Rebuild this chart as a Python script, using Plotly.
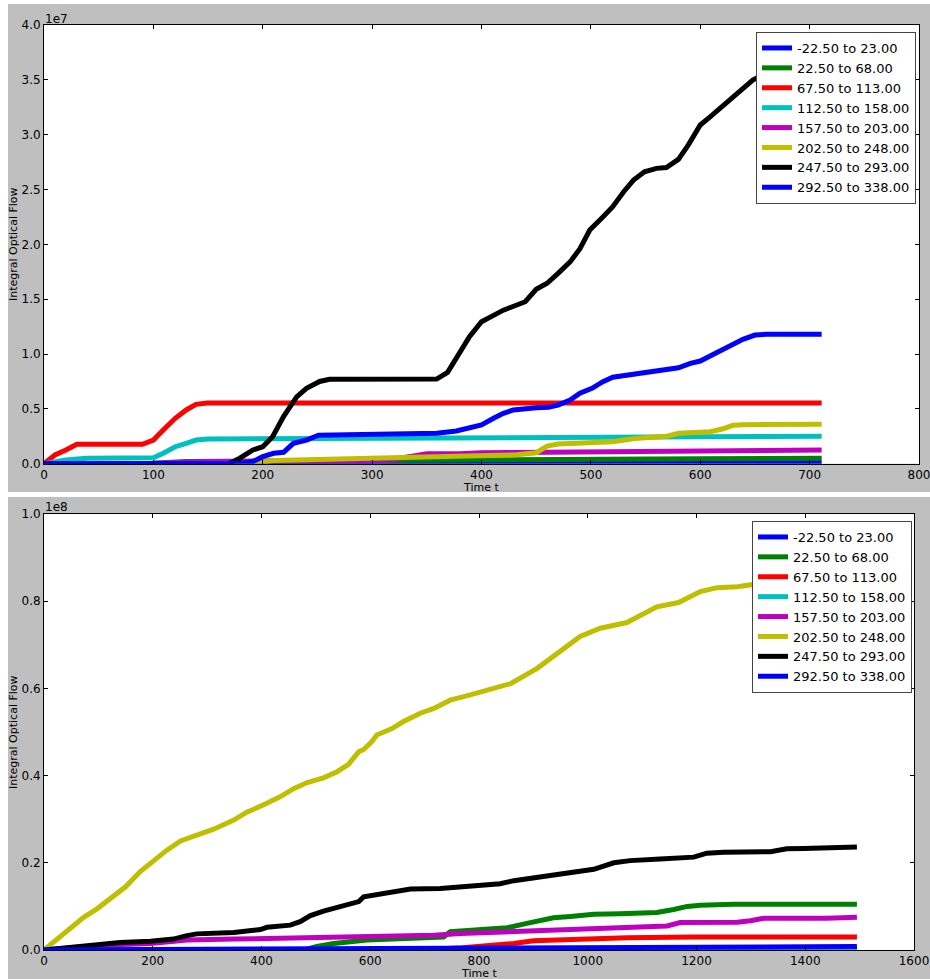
import plotly.graph_objects as go

# ---------------- data ----------------
labels = ["-22.50 to 23.00", "22.50 to 68.00", "67.50 to 113.00", "112.50 to 158.00",
          "157.50 to 203.00", "202.50 to 248.00", "247.50 to 293.00", "292.50 to 338.00"]
colors = ["#0000ff", "#008000", "#ff0000", "#00bfbf", "#bf00bf", "#bfbf00", "#000000", "#0000ff"]

# upper panel (values in units of 1e7)
top_t_0 = [0, 300, 500, 711]
top_v_0 = [0, 0.002, 0.005, 0.01]
top_t_1 = [0, 100, 130, 200, 300, 400, 500, 600, 711]
top_v_1 = [0, 0.005, 0.02, 0.025, 0.028, 0.034, 0.04, 0.045, 0.05]
top_t_2 = [0, 10, 20, 30, 90, 100, 109, 120, 130, 139, 149, 711]
top_v_2 = [0, 0.08, 0.125, 0.177, 0.177, 0.216, 0.307, 0.414, 0.49, 0.541, 0.553, 0.553]
top_t_3 = [0, 20, 39, 100, 109, 120, 130, 139, 150, 300, 450, 600, 711]
top_v_3 = [0, 0.034, 0.049, 0.055, 0.095, 0.155, 0.186, 0.216, 0.225, 0.228, 0.237, 0.245, 0.25]
top_t_4 = [0, 100, 150, 200, 300, 320, 340, 350, 380, 400, 460, 540, 600, 711]
top_v_4 = [0, 0.005, 0.02, 0.02, 0.03, 0.04, 0.07, 0.09, 0.091, 0.1, 0.105, 0.113, 0.12, 0.125]
top_t_5 = [0, 190, 210, 250, 300, 350, 380, 400, 430, 450, 460, 470, 490, 500, 520, 540,
           560, 570, 580, 600, 609, 620, 630, 639, 660, 711]
top_v_5 = [0, 0.002, 0.03, 0.04, 0.045, 0.055, 0.064, 0.07, 0.08, 0.1, 0.16, 0.18, 0.189, 0.19,
           0.2, 0.23, 0.246, 0.25, 0.277, 0.286, 0.292, 0.316, 0.35, 0.356, 0.36, 0.36]
top_t_6 = [0, 170, 179, 191, 200, 209, 219, 231, 240, 252, 261, 300, 359, 369, 379, 389, 400,
           411, 420, 430, 440, 450, 460, 470, 481, 490, 499, 511, 520, 530, 539, 549, 560, 569,
           580, 589, 600, 609, 620, 630, 639, 648, 660, 672, 684, 696, 711]
top_v_6 = [0, 0.005, 0.05, 0.125, 0.155, 0.246, 0.43, 0.61, 0.687, 0.75, 0.77, 0.77, 0.772,
           0.833, 1.0, 1.158, 1.295, 1.356, 1.40, 1.438, 1.477, 1.59, 1.645, 1.736, 1.84, 1.96,
           2.13, 2.25, 2.343, 2.48, 2.586, 2.662, 2.693, 2.70, 2.775, 2.905, 3.088, 3.163, 3.26,
           3.337, 3.43, 3.498, 3.56, 3.62, 3.68, 3.72, 3.76]
top_t_7 = [0, 180, 191, 200, 210, 219, 228, 240, 251, 300, 359, 377, 389, 400, 411, 420, 429,
           441, 450, 461, 470, 481, 490, 501, 511, 520, 531, 542, 549, 560, 571, 580, 591, 600,
           609, 618, 629, 639, 650, 661, 711]
top_v_7 = [0, 0.005, 0.02, 0.064, 0.095, 0.104, 0.186, 0.216, 0.26, 0.265, 0.277, 0.298, 0.328,
           0.353, 0.414, 0.459, 0.49, 0.505, 0.51, 0.514, 0.535, 0.58, 0.642, 0.687, 0.748, 0.788,
           0.802, 0.815, 0.824, 0.845, 0.854, 0.875, 0.915, 0.936, 0.982, 1.027, 1.082, 1.134,
           1.173, 1.18, 1.18]

# lower panel (values in units of 1e8)
bot_t_0 = [0, 500, 1000, 1495]
bot_v_0 = [0, 0.001, 0.002, 0.003]
bot_t_1 = [0, 480, 502, 533, 594, 686, 735, 747, 784, 852, 888, 937, 968, 1011, 1060, 1127,
           1158, 1183, 1207, 1244, 1268, 1495]
bot_v_1 = [0, 0.001, 0.008, 0.015, 0.023, 0.028, 0.03, 0.042, 0.046, 0.051, 0.061, 0.074,
           0.077, 0.082, 0.083, 0.086, 0.093, 0.1, 0.1025, 0.103, 0.105, 0.105]
bot_t_2 = [0, 700, 770, 827, 864, 900, 980, 1072, 1195, 1495]
bot_v_2 = [0, 0.001, 0.005, 0.01, 0.015, 0.021, 0.025, 0.028, 0.03, 0.03]
bot_t_3 = [0, 500, 1000, 1495]
bot_v_3 = [0, 0.0005, 0.001, 0.0015]
bot_t_4 = [0, 104, 196, 263, 349, 471, 625, 717, 766, 858, 950, 1042, 1146, 1170, 1275, 1299,
           1323, 1439, 1495]
bot_v_4 = [0, 0.011, 0.015, 0.023, 0.025, 0.028, 0.03, 0.034, 0.038, 0.042, 0.047, 0.051, 0.055,
           0.063, 0.0635, 0.067, 0.0727, 0.073, 0.075]
bot_t_5 = [0, 36, 73, 98, 122, 150, 177, 202, 226, 251, 275, 312, 349, 373, 404, 435, 459, 484,
           514, 539, 560, 579, 588, 603, 612, 640, 661, 692, 717, 747, 784, 802, 858, 907, 956,
           986, 1023, 1072, 1127, 1167, 1207, 1238, 1275, 1302, 1340, 1380, 1420, 1460, 1495]
bot_v_5 = [0, 0.038, 0.075, 0.095, 0.119, 0.145, 0.18, 0.206, 0.229, 0.25, 0.261, 0.277, 0.298,
           0.316, 0.333, 0.352, 0.37, 0.384, 0.395, 0.409, 0.426, 0.455, 0.46, 0.478, 0.493,
           0.508, 0.524, 0.543, 0.554, 0.573, 0.585, 0.592, 0.611, 0.646, 0.692, 0.719, 0.738,
           0.751, 0.787, 0.797, 0.822, 0.831, 0.833, 0.837, 0.845, 0.855, 0.862, 0.868, 0.872]
bot_t_6 = [0, 73, 104, 140, 196, 238, 263, 281, 349, 398, 410, 453, 471, 490, 514, 539, 563,
           579, 588, 619, 643, 674, 729, 784, 802, 839, 864, 900, 944, 980, 1011, 1048, 1078,
           1133, 1195, 1219, 1250, 1336, 1366, 1397, 1434, 1495]
bot_v_6 = [0, 0.008, 0.013, 0.017, 0.02, 0.025, 0.033, 0.037, 0.04, 0.047, 0.052, 0.057, 0.065,
           0.079, 0.089, 0.097, 0.107, 0.111, 0.122, 0.128, 0.135, 0.14, 0.141, 0.147, 0.148,
           0.152, 0.159, 0.166, 0.174, 0.181, 0.185, 0.2, 0.205, 0.209, 0.213, 0.222, 0.224,
           0.2255, 0.232, 0.233, 0.234, 0.236]
bot_t_7 = [0, 300, 600, 900, 1200, 1495]
bot_v_7 = [0, 0.002, 0.004, 0.006, 0.007, 0.008]

top_t = [top_t_0, top_t_1, top_t_2, top_t_3, top_t_4, top_t_5, top_t_6, top_t_7]
top_v = [top_v_0, top_v_1, top_v_2, top_v_3, top_v_4, top_v_5, top_v_6, top_v_7]
bot_t = [bot_t_0, bot_t_1, bot_t_2, bot_t_3, bot_t_4, bot_t_5, bot_t_6, bot_t_7]
bot_v = [bot_v_0, bot_v_1, bot_v_2, bot_v_3, bot_v_4, bot_v_5, bot_v_6, bot_v_7]

top_scale = 1e7
bot_scale = 1e8
top_xticks = [0, 100, 200, 300, 400, 500, 600, 700, 800]
top_yticks = ["0.0", "0.5", "1.0", "1.5", "2.0", "2.5", "3.0", "3.5", "4.0"]
bot_xticks = [0, 200, 400, 600, 800, 1000, 1200, 1400, 1600]
bot_yticks = ["0.0", "0.2", "0.4", "0.6", "0.8", "1.0"]

# ---------------- layout geometry (pixels) ----------------
W, H = 930, 979
FONT = "DejaVu Sans"


def px(x):
    return x / W


def py(y):
    return 1 - y / H


fig = go.Figure()

for i in range(8):
    fig.add_trace(go.Scatter(
        x=top_t[i], y=[v * top_scale for v in top_v[i]], mode="lines", name=labels[i],
        line=dict(color=colors[i], width=5), xaxis="x", yaxis="y", legend="legend"))
for i in range(8):
    fig.add_trace(go.Scatter(
        x=bot_t[i], y=[v * bot_scale for v in bot_v[i]], mode="lines", name=labels[i],
        line=dict(color=colors[i], width=5), xaxis="x2", yaxis="y2", legend="legend2"))

axis_common = dict(showline=True, linecolor="black", linewidth=1, mirror="allticks",
                   ticks="inside", ticklen=4, tickwidth=1, tickcolor="black",
                   showgrid=False, zeroline=False, automargin=False,
                   ticklabeloverflow="allow",
                   tickfont=dict(family=FONT, size=12, color="black"))

legend_common = dict(bgcolor="white", bordercolor="#444444", borderwidth=1,
                     font=dict(family=FONT, size=13, color="black"),
                     xanchor="left", yanchor="top", tracegroupgap=0)

gray = "#bfbfbf"
white_strip = dict(type="rect", xref="paper", yref="paper", fillcolor="white",
                   line=dict(width=0), layer="below")
fig.update_layout(
    width=W, height=H, margin=dict(l=0, r=0, t=0, b=0, pad=0, autoexpand=False),
    paper_bgcolor=gray, plot_bgcolor="white", showlegend=True,
    xaxis=dict(axis_common, domain=[px(44), px(919)], range=[0, 800],
               tickvals=top_xticks, ticktext=[str(v) for v in top_xticks], anchor="y"),
    yaxis=dict(axis_common, domain=[py(463.7), py(25)], range=[0, 4 * top_scale],
               tickvals=[float(s) * top_scale for s in top_yticks], ticktext=top_yticks,
               anchor="x"),
    xaxis2=dict(axis_common, domain=[px(44), px(914)], range=[0, 1600],
                tickvals=bot_xticks, ticktext=[str(v) for v in bot_xticks], anchor="y2"),
    yaxis2=dict(axis_common, domain=[py(950), py(514)], range=[0, 1 * bot_scale],
                tickvals=[float(s) * bot_scale for s in bot_yticks], ticktext=bot_yticks,
                anchor="x2"),
    legend=dict(legend_common, x=px(756), y=py(32)),
    legend2=dict(legend_common, x=px(752), y=py(521)),
    shapes=[
        dict(white_strip, x0=0, x1=1, y0=py(4), y1=1),
        dict(white_strip, x0=0, x1=px(8), y0=0, y1=1),
        dict(white_strip, x0=0, x1=1, y0=py(497), y1=py(492)),
    ],
    annotations=[
        dict(text="1e7", x=px(43), y=py(19), xref="paper", yref="paper", showarrow=False,
             xanchor="left", yanchor="middle", font=dict(family=FONT, size=12, color="black")),
        dict(text="1e8", x=px(43), y=py(507), xref="paper", yref="paper", showarrow=False,
             xanchor="left", yanchor="middle", font=dict(family=FONT, size=12, color="black")),
        dict(text="Integral Optical Flow", x=px(13), y=py(244), xref="paper", yref="paper",
             showarrow=False, textangle=-90, xanchor="center", yanchor="middle",
             font=dict(family=FONT, size=11, color="black")),
        dict(text="Integral Optical Flow", x=px(13), y=py(732), xref="paper", yref="paper",
             showarrow=False, textangle=-90, xanchor="center", yanchor="middle",
             font=dict(family=FONT, size=11, color="black")),
        dict(text="Time t", x=px(481), y=py(487.5), xref="paper", yref="paper",
             showarrow=False, xanchor="center", yanchor="middle",
             font=dict(family=FONT, size=11, color="black")),
        dict(text="Time t", x=px(479), y=py(973), xref="paper", yref="paper",
             showarrow=False, xanchor="center", yanchor="middle",
             font=dict(family=FONT, size=11, color="black")),
    ],
)

fig.write_html("out.html")
